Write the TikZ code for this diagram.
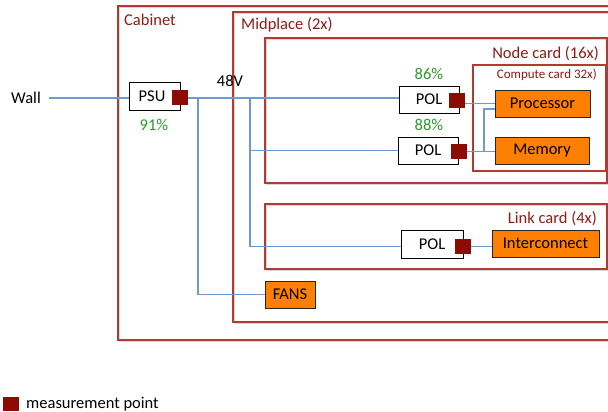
\documentclass[tikz,border=0pt]{standalone}
\usepackage{fontspec}
\setmainfont{Carlito}
\definecolor{frameRed}{HTML}{B23A33}
\definecolor{lblRed}{HTML}{8E1B17}
\definecolor{measRed}{HTML}{8C0C02}
\definecolor{wireBlue}{HTML}{6B9BD1}
\definecolor{boxOrange}{HTML}{FF8000}
\definecolor{effGreen}{HTML}{2C9A2C}
\definecolor{shadowGray}{HTML}{D8D8D8}
\begin{document}
\begin{tikzpicture}[x=1pt,y=-1pt,
  mainfont/.style={font=\fontsize{16.5}{19}\selectfont},
  frame/.style={draw=frameRed, line width=1.6pt},
  fshadow/.style={draw=shadowGray, line width=1.6pt},
  lbl/.style={text=lblRed, inner sep=0pt, mainfont},
  txt/.style={inner sep=0pt, mainfont},
  eff/.style={text=effGreen, inner sep=0pt, mainfont},
  whitebox/.style={draw=black, line width=0.8pt, fill=white, inner sep=0pt, mainfont},
  orangebox/.style={draw=black!85, line width=0.8pt, fill=boxOrange, inner sep=0pt, mainfont},
  meas/.style={fill=measRed, inner sep=0pt, minimum width=16pt, minimum height=15pt},
  wire/.style={draw=wireBlue, line width=1.8pt}
]
\useasboundingbox (0,0) rectangle (608,412);
\clip (0,0) rectangle (608,412);
\fill[white] (0,0) rectangle (608,412);

% container frames (with faint shadows)
\draw[fshadow] (119.5,7.5) rectangle (640,341.5);
\draw[frame] (118,6) rectangle (640,340);
\draw[fshadow] (234.5,13.5) rectangle (640,323.5);
\draw[frame] (233,12) rectangle (640,322);
\draw[fshadow] (266.5,39.5) rectangle (608.5,184.5);
\draw[frame] (265,38) rectangle (607,183);
\draw[fshadow] (266.5,205.5) rectangle (608.5,270.5);
\draw[frame] (265,204) rectangle (607,269);
\draw[frame] (473,65) rectangle (605.5,171);

% container labels
\node[lbl, anchor=west] (lcab) at (124,20) {Cabinet};
\node[lbl, anchor=west] (lmid) at (241,25) {Midplace (2x)};
\node[lbl, anchor=east] (lnode) at (599,54) {Node card (16x)};
\node[lbl, anchor=east, font=\fontsize{13}{15}\selectfont] (lcomp) at (597,75) {Compute card 32x)};
\node[lbl, anchor=east] (llink) at (597,219) {Link card (4x)};

% components
\node[txt] (wall) at (26,98) {Wall};
\coordinate (wallend) at (49,98);
\node[whitebox, minimum width=51pt, minimum height=28pt] (psu) at (154.5,96) {\hspace*{-5pt}PSU};
\node[meas] (mpsu) at (180,97.5) {};
\node[eff] (e91) at (154,125) {91\%};
\node[txt] (v48) at (230,81) {48V};

\node[whitebox, minimum width=60pt, minimum height=27pt] (pol1) at (429,99.5) {POL};
\node[meas] (mpol1) at (457,100.5) {};
\node[eff] (e86) at (429,74) {86\%};

\node[whitebox, minimum width=60pt, minimum height=27pt] (pol2) at (428,150.5) {POL};
\node[meas] (mpol2) at (459,151.5) {};
\node[eff] (e88) at (429,125) {88\%};

\node[whitebox, minimum width=62pt, minimum height=28pt] (pol3) at (432,244) {POL};
\node[meas] (mpol3) at (463,246.5) {};

\node[orangebox, minimum width=95pt, minimum height=27pt] (proc) at (542.5,103.5) {Processor};
\node[orangebox, minimum width=94pt, minimum height=27pt] (mem) at (542,150.5) {Memory};
\node[orangebox, minimum width=107pt, minimum height=27pt] (inter) at (545.5,243.5) {Interconnect};
\node[orangebox, minimum width=50pt, minimum height=27pt] (fans) at (290,294.5) {FANS};

% junction coordinates
\coordinate (jf) at (198,98);
\coordinate (jb) at (250,98);
\coordinate (jm) at (484,152);

% wires
\draw[wire] (wallend) -- (psu.west |- wallend);
\draw[wire] (mpsu.east |- jf) -- (pol1.west |- jf);
\draw[wire] (jf) |- (fans.west);
\draw[wire] (jb) |- (pol3.west |- mpol3);
\draw[wire] (jb |- pol2.west) -- (pol2.west);
\draw[wire] (mpol1.east |- proc.west) -- (proc.west);
\draw[wire] (mpol2.east) -- (mem.west |- mpol2.east);
\draw[wire] (jm) |- (proc.west |- 0,109);
\draw[wire] (mpol3.east) -- (inter.west |- mpol3.east);

% redraw boxes/markers on top of wires
\node[whitebox, minimum width=51pt, minimum height=28pt] at (psu) {\hspace*{-5pt}PSU};
\node[meas] at (mpsu) {};
\node[whitebox, minimum width=60pt, minimum height=27pt] at (pol1) {POL};
\node[meas] at (mpol1) {};
\node[whitebox, minimum width=60pt, minimum height=27pt] at (pol2) {POL};
\node[meas] at (mpol2) {};
\node[whitebox, minimum width=62pt, minimum height=28pt] at (pol3) {POL};
\node[meas] at (mpol3) {};

% legend
\node[meas, minimum width=16pt, minimum height=14pt] (legsq) at (11,404) {};
\node[txt, anchor=west] (legtxt) at (26,404) {measurement point};
\end{tikzpicture}
\end{document}
